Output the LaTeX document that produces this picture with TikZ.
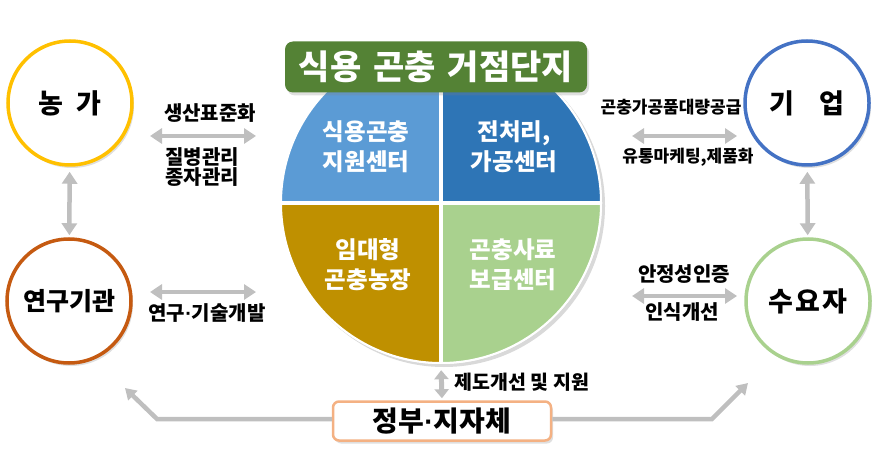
\documentclass[tikz,border=0pt]{standalone}
\usepackage{fontspec}
\setmainfont{Noto Sans CJK KR}
\newfontfamily\latinf{Liberation Sans}
\usetikzlibrary{arrows.meta, positioning, shadows}
\definecolor{farmc}{HTML}{FFC000}
\definecolor{labc}{HTML}{C55A11}
\definecolor{firmc}{HTML}{4472C4}
\definecolor{userc}{HTML}{A9D18E}
\definecolor{titlec}{HTML}{548235}
\definecolor{govc}{HTML}{F4B183}
\definecolor{qa}{HTML}{5B9BD5}
\definecolor{qb}{HTML}{2E75B6}
\definecolor{qc}{HTML}{BF9000}
\definecolor{qd}{HTML}{A9D18E}
\definecolor{arrowc}{HTML}{BFBFBF}
\newcommand{\middot}{{\latinf\bfseries ·}}
\tikzset{
    softshadow/.style = {drop shadow={opacity=0.25, shadow xshift=2pt, shadow yshift=-3pt}},
    actor/.style = {draw, circle, line width=3.5pt, fill=white, minimum size=124pt, inner sep=0pt, font=\fontsize{27}{27}\selectfont\bfseries, softshadow},
    titlebox/.style = {rectangle, rounded corners=8pt, fill=titlec, text=white, minimum width=302pt, minimum height=51pt, font=\fontsize{34}{34}\selectfont\bfseries, softshadow},
    govbox/.style = {draw=govc, line width=2.5pt, rectangle, rounded corners=6pt, fill=white, minimum width=218pt, minimum height=39pt, font=\fontsize{28}{28}\selectfont\bfseries, softshadow},
    qlabel/.style = {text=white, align=center, font=\fontsize{23.5}{30}\selectfont\bfseries},
    lbl/.style = {align=center, font=\fontsize{20}{19.5}\selectfont\bfseries},
    slbl/.style = {align=center, font=\fontsize{17}{17}\selectfont\bfseries},
    garrow/.style = {{Triangle[length=12pt,width=15pt]}-{Triangle[length=12pt,width=15pt]}, line width=4.5pt, draw=arrowc},
    varrow/.style = {{Triangle[length=9pt,width=14pt]}-{Triangle[length=9pt,width=14pt]}, line width=5pt, draw=arrowc},
    sarrow/.style = {-{Triangle[length=11pt,width=13pt]}, line width=4.5pt, draw=arrowc}
}
\begin{document}
\begin{tikzpicture}[x=1pt, y=-1pt]
    \useasboundingbox (0,0) rectangle (882,462);

    % hub: four quadrants
    \node[circle, fill=white, minimum size=322pt, inner sep=0pt, drop shadow={opacity=0.3, shadow xshift=3pt, shadow yshift=-3pt}] (hub) at (441,203) {};
    \fill[qa] (hub.center) -- ++(-160,0) arc[start angle=180, end angle=270, radius=160] -- cycle;
    \fill[qb] (hub.center) -- ++(0,-160) arc[start angle=270, end angle=360, radius=160] -- cycle;
    \fill[qd] (hub.center) -- ++(160,0) arc[start angle=0, end angle=90, radius=160] -- cycle;
    \fill[qc] (hub.center) -- ++(0,160) arc[start angle=90, end angle=180, radius=160] -- cycle;
    \draw[white, line width=4pt] (hub.north) -- (hub.south);
    \draw[white, line width=4pt] (hub.west) -- (hub.east);
    \draw[white, line width=2pt] (hub.center) circle[radius=160];

    \node[qlabel] (qa-t) at (366,147) {식용곤충\\지원센터};
    \node[qlabel] (qb-t) at (514,147) {전처리,\\가공센터};
    \node[qlabel] (qc-t) at (368,265) {임대형\\곤충농장};
    \node[qlabel] (qd-t) at (513,265) {곤충사료\\보급센터};

    \node[titlebox] (title) at (436,67) {식용\hspace{12pt}곤충\hspace{12pt}거점단지};

    % actors
    \node[actor, draw=farmc] (farm) at (70,103) {농\hspace{14pt}가};
    \node[actor, draw=labc, font=\fontsize{25}{25}\selectfont\bfseries] (lab) at (69,301) {연구기관};
    \node[actor, draw=firmc] (firm) at (807,103) {기\hspace{26pt}업};
    \node[actor, draw=userc] (user) at (808,301) {수\hspace{2pt}요\hspace{2pt}자};
    \node[govbox] (gov) at (442,421) {정부\middot 지자체};

    % labels
    \node[lbl] (l-std) at (210,113) {생산표준화};
    \node[lbl] (l-mgmt) at (202,167) {질병관리\\종자관리};
    \node[lbl] (l-rnd) at (207,313) {연구\middot 기술개발};
    \node[slbl] (r-supply) at (671,107) {곤충가공품대량공급};
    \node[slbl] (r-mkt) at (688,157) {유통마케팅,제품화};
    \node[lbl] (r-cert) at (684,274) {안정성인증};
    \node[lbl] (r-aware) at (682,312) {인식개선};
    \node[lbl, anchor=west, font=\fontsize{19.5}{19.5}\selectfont\bfseries] (g-policy) at (451,382) {제도개선 및 지원};

    % connectors
    \coordinate (a1w) at (150,136);
    \coordinate (a1e) at (256,136);
    \coordinate (a2w) at (150,292);
    \coordinate (a2e) at (256,292);
    \coordinate (a3w) at (632,136);
    \coordinate (a3e) at (737,136);
    \coordinate (a4w) at (632,296);
    \coordinate (a4e) at (737,296);
    \draw[garrow] (a1w) -- (a1e);
    \draw[garrow] (a2w) -- (a2e);
    \draw[garrow] (a3w) -- (a3e);
    \draw[garrow] (a4w) -- (a4e);
    \draw[garrow, shorten <=5pt, shorten >=2pt] (farm) -- (lab);
    \draw[garrow, shorten <=5pt, shorten >=2pt] (firm) -- (user);
    \draw[varrow, shorten <=6pt, shorten >=2pt] (hub.south) -- (gov.north);

    \coordinate (bl) at (157,419);
    \coordinate (tl) at (125,388);
    \coordinate (br) at (712,419);
    \coordinate (tr) at (748,383);
    \draw[sarrow] (gov.west |- bl) -- (bl) -- (tl);
    \draw[sarrow] (gov.east |- br) -- (br) -- (tr);
\end{tikzpicture}
\end{document}
